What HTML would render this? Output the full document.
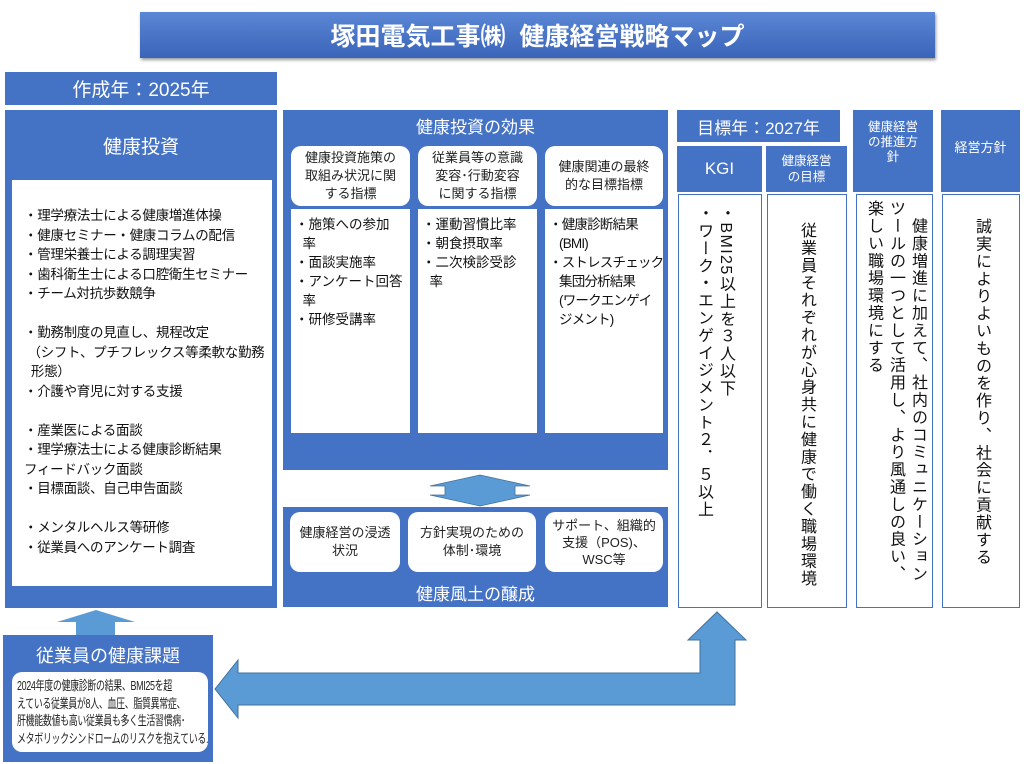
<!DOCTYPE html>
<html><head><meta charset="utf-8"><style>
*{margin:0;padding:0;box-sizing:border-box}
body{width:1024px;height:764px;background:#fff;position:relative;overflow:hidden;font-family:"Liberation Sans","Noto Sans CJK JP",sans-serif;color:#111}
.a{position:absolute}
.blue{background:#4472c4;color:#fff}
.wh{background:#fff;border:1px solid #4472c4}
.c{display:flex;align-items:center;justify-content:center;text-align:center}
.rb{background:#fff;border-radius:10px;color:#222}
.v{writing-mode:vertical-rl;font-size:16px;line-height:22px;letter-spacing:1.4px;white-space:nowrap}
</style></head><body>
<div class="a c" style="left:140px;top:12px;width:795px;height:46px;background:linear-gradient(#5b87d6,#3a64b8);color:#fff;font-size:25px;font-weight:bold;box-shadow:1px 2px 3px #999">塚田電気工事㈱&nbsp; 健康経営戦略マップ</div>
<div class="a blue c" style="left:5px;top:72px;width:272px;height:33px;font-size:19px">作成年：2025年</div>

<div class="a blue" style="left:5px;top:110px;width:272px;height:498px"></div>
<div class="a c" style="left:5px;top:130px;width:272px;height:30px;color:#fff;font-size:19px">健康投資</div>
<div class="a" style="left:12px;top:180px;width:260px;height:406px;background:#fff;padding:26px 0 0 12px;font-size:13.5px;line-height:19.5px;letter-spacing:-0.3px">
・理学療法士による健康増進体操<br>・健康セミナー・健康コラムの配信<br>・管理栄養士による調理実習<br>・歯科衛生士による口腔衛生セミナー<br>・チーム対抗歩数競争<br><br>・勤務制度の見直し、規程改定<br>&nbsp;（シフト、プチフレックス等柔軟な勤務<br>&nbsp;&nbsp;形態）<br>・介護や育児に対する支援<br><br>・産業医による面談<br>・理学療法士による健康診断結果<br>フィードバック面談<br>・目標面談、自己申告面談<br><br>・メンタルヘルス等研修<br>・従業員へのアンケート調査</div>

<div class="a blue" style="left:283px;top:110px;width:385px;height:360px"></div>
<div class="a c" style="left:283px;top:112px;width:385px;height:26px;color:#fff;font-size:17px">健康投資の効果</div>
<div class="a rb c" style="left:291px;top:146px;width:119px;height:60px;font-size:13px;line-height:18px">健康投資施策の<br>取組み状況に関<br>する指標</div>
<div class="a rb c" style="left:418px;top:146px;width:119px;height:60px;font-size:13px;line-height:18px">従業員等の意識<br>変容･行動変容<br>に関する指標</div>
<div class="a rb c" style="left:545px;top:146px;width:118px;height:60px;font-size:13px;line-height:18px">健康関連の最終<br>的な目標指標</div>
<div class="a" style="left:291px;top:209px;width:119px;height:224px;background:#fff;padding:6px 0 0 4px;font-size:13.5px;line-height:19px">・施策への参加<br>&nbsp;&nbsp;率<br>・面談実施率<br>・アンケート回答<br>&nbsp;&nbsp;率<br>・研修受講率</div>
<div class="a" style="left:418px;top:209px;width:119px;height:224px;background:#fff;padding:6px 0 0 4px;font-size:13.5px;line-height:19px">・運動習慣比率<br>・朝食摂取率<br>・二次検診受診<br>&nbsp;&nbsp;率</div>
<div class="a" style="left:545px;top:209px;width:118px;height:224px;background:#fff;padding:6px 0 0 4px;font-size:13.5px;line-height:19px;letter-spacing:-0.8px;white-space:nowrap">・健康診断結果<br><span style="padding-left:10px">(BMI)</span><br>・ストレスチェック<br><span style="padding-left:10px">集団分析結果</span><br><span style="padding-left:10px">(ワークエンゲイ</span><br><span style="padding-left:10px">ジメント)</span></div>

<div class="a blue" style="left:283px;top:507px;width:385px;height:100px"></div>
<div class="a rb c" style="left:290px;top:512px;width:110px;height:60px;font-size:13px;line-height:18px">健康経営の浸透<br>状況</div>
<div class="a rb c" style="left:408px;top:512px;width:128px;height:60px;font-size:13px;line-height:18px">方針実現のための<br>体制･環境</div>
<div class="a rb c" style="left:545px;top:512px;width:118px;height:60px;font-size:13px;line-height:17px">サポート、組織的<br>支援（POS)、<br>WSC等</div>
<div class="a c" style="left:283px;top:578px;width:385px;height:28px;color:#fff;font-size:17px">健康風土の醸成</div>

<div class="a blue c" style="left:677px;top:110px;width:163px;height:32px;font-size:17px">目標年：2027年</div>
<div class="a blue c" style="left:677px;top:146px;width:85px;height:46px;font-size:17px">KGI</div>
<div class="a blue c" style="left:766px;top:146px;width:81px;height:46px;font-size:12.5px;line-height:16px">健康経営<br>の目標</div>
<div class="a blue c" style="left:853px;top:110px;width:80px;height:82px;font-size:12.5px;line-height:15px;padding-bottom:18px">健康経営<br>の推進方<br>針</div>
<div class="a blue c" style="left:941px;top:110px;width:79px;height:82px;font-size:13px;padding-bottom:10px">経営方針</div>

<div class="a wh" style="left:678px;top:194px;width:84px;height:414px"></div>
<div class="a v" style="left:692px;top:205px;height:400px">・BMI25以上を３人以下<br>・ワーク・エンゲイジメント２．５以上</div>
<div class="a wh" style="left:767px;top:194px;width:80px;height:414px"></div>
<div class="a v" style="left:795px;top:222px;height:380px">従業員それぞれが心身共に健康で働く職場環境</div>
<div class="a wh" style="left:856px;top:194px;width:77px;height:414px"></div>
<div class="a v" style="left:862px;top:200px;height:400px">　健康増進に加えて、社内のコミュニケーション<br>ツールの一つとして活用し、より風通しの良い、<br>楽しい職場環境にする</div>
<div class="a wh" style="left:942px;top:194px;width:78px;height:414px"></div>
<div class="a v" style="left:970px;top:218px;height:380px">誠実によりよいものを作り、社会に貢献する</div>

<svg class="a" style="left:0;top:0" width="1024" height="764">
<polygon points="480,475 530,486 515,486 515,495 530,495 480,506 430,495 445,495 445,486 430,486" fill="#5b9bd5" stroke="#41719c" stroke-width="0.8"/>
<polygon points="96,610 135,622 115,622 115,636 76,636 76,622 57,622" fill="#5b9bd5"/>
<polygon points="215,689 238,660 238,673 700,673 700,640 688,640 717,612 746,640 735,640 735,705 238,705 238,718" fill="#5b9bd5" stroke="#41719c" stroke-width="1"/>
</svg>

<div class="a blue" style="left:3px;top:635px;width:210px;height:127px"></div>
<div class="a c" style="left:3px;top:642px;width:210px;height:26px;color:#fff;font-size:18px">従業員の健康課題</div>
<div class="a rb" style="left:12px;top:672px;width:196px;height:80px;overflow:hidden"></div>
<div class="a" style="left:17px;top:677px;font-size:13px;line-height:17.5px;letter-spacing:-0.5px;white-space:nowrap;transform:scaleX(0.69);transform-origin:0 0;color:#222">2024年度の健康診断の結果、BMI25を超<br>えている従業員が8人、血圧、脂質異常症、<br>肝機能数値も高い従業員も多く生活習慣病･<br>メタボリックシンドロームのリスクを抱えている.</div>
</body></html>
